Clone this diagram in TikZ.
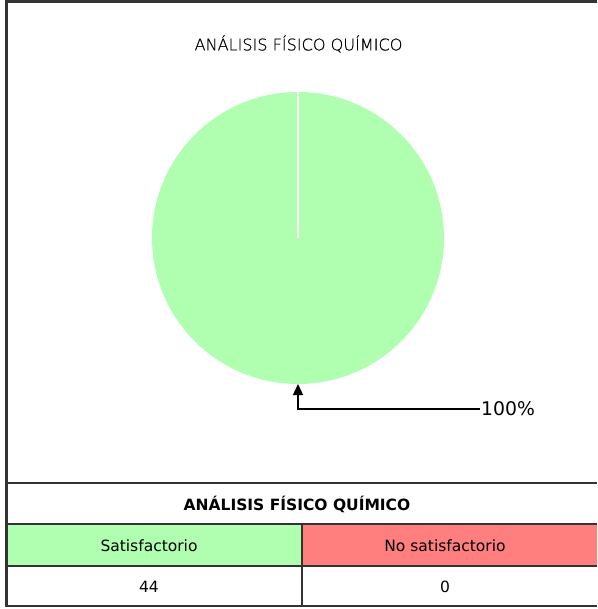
\documentclass[tikz,border=0pt]{standalone}
\usepackage{fontspec}
\setmainfont{DejaVu Sans}
\newfontfamily\thinfont[FakeBold=0.6]{DejaVu Sans ExtraLight}
\usetikzlibrary{arrows.meta}
\definecolor{okgreen}{HTML}{B0FFB0}
\definecolor{nored}{HTML}{FF7F7F}
\definecolor{rulec}{HTML}{333333}
\tikzset{
  frameline/.style={draw=rulec, line width=2.5pt},
  celltext/.style={inner sep=0pt, font=\fontsize{15.5}{18}\selectfont},
  piefill/.style={circle, fill=okgreen, minimum size=292pt, inner sep=0pt, outer sep=0pt},
  callout/.style={draw=black, line width=1.3pt, -{Triangle[length=11pt,width=10pt]}}
}
\begin{document}
\begin{tikzpicture}[x=1pt,y=-1pt]
\useasboundingbox (0,0) rectangle (597,609);
% table cell fills
\fill[okgreen] (6.5,524) rectangle (302,566);
\fill[nored] (302,524) rectangle (597,566);
% frame and table rules
\draw[frameline] (6.5,606) -- (6.5,1.5) -- (597,1.5);
\draw[frameline] (6.5,483) -- (597,483);
\draw[frameline] (6.5,524) -- (597,524);
\draw[frameline] (6.5,566) -- (597,566);
\draw[frameline] (5.25,606) -- (597,606);
\draw[frameline] (302,524) -- (302,606);
% chart title
\node[inner sep=0pt, font=\thinfont\fontsize{16.1}{19}\selectfont] (title) at (298.5,44) {ANÁLISIS FÍSICO QUÍMICO};
% pie
\node[piefill] (pie) at (298,238) {};
\draw[white, line width=1.5pt] (pie.center) -- (pie.north);
% label with callout
\node[anchor=west, inner sep=1pt, font=\fontsize{18.8}{22}\selectfont] (pct) at (480,409) {100\%};
\draw[callout] (pct.west) -| (pie.south);
% table texts
\node[celltext, font=\bfseries\fontsize{15.5}{18}\selectfont] (hdr) at (297,504) {ANÁLISIS FÍSICO QUÍMICO};
\node[celltext] (sat) at (149,545.5) {Satisfactorio};
\node[celltext] (nosat) at (445,545.5) {No satisfactorio};
\node[celltext] (vsat) at (149,586.5) {44};
\node[celltext] (vnosat) at (445,586.5) {0};
\end{tikzpicture}
\end{document}
